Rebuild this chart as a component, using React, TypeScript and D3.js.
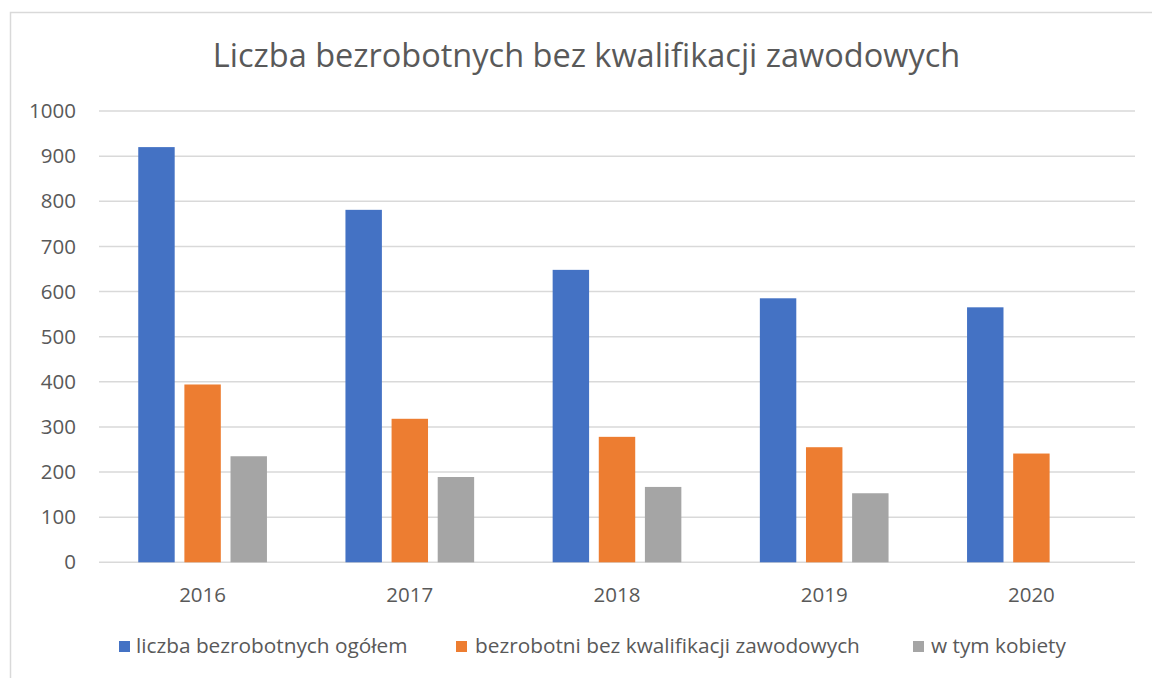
import React from "react";
import * as d3 from "d3";

const categories = ["2016", "2017", "2018", "2019", "2020"];
const seriesNames = [
  "liczba bezrobotnych ogółem",
  "bezrobotni bez kwalifikacji zawodowych",
  "w tym kobiety",
];
const totalValues: (number | null)[] = [920, 781, 648, 585, 565];
const unqualifiedValues: (number | null)[] = [394, 318, 278, 255, 241];
const womenValues: (number | null)[] = [235, 189, 167, 153, null];
const seriesColors = ["#4472C4", "#ED7D31", "#A5A5A5"];
const yTicks = [0, 100, 200, 300, 400, 500, 600, 700, 800, 900, 1000];
const title = "Liczba bezrobotnych bez kwalifikacji zawodowych";

const W = 1152;
const H = 678;
const FONT = "'Open Sans', sans-serif";
const TEXT = "#595959";

export default function App() {
  const series = [totalValues, unqualifiedValues, womenValues];
  const x = d3.scaleBand<string>().domain(categories).range([99, 1135]).padding(0);
  const y = d3.scaleLinear().domain([0, 1000]).range([562.3, 111]);
  const groupW = 128.7;
  const inner = d3
    .scaleBand<string>()
    .domain(["0", "1", "2"])
    .range([-groupW / 2, groupW / 2])
    .paddingInner(0.21)
    .paddingOuter(0);

  const legendItems = [
    { sx: 119, tx: 136 },
    { sx: 456, tx: 475 },
    { sx: 913, tx: 931 },
  ];

  return (
    <div style={{ position: "absolute", left: 0, top: 0 }}>
      <svg width={W} height={H} style={{ display: "block", background: "#fff" }}>
        <rect x={10.5} y={12.5} width={1160} height={700} fill="#fff" stroke="#d9d9d9" strokeWidth={1.5} />
        <text
          x={586.5}
          y={67}
          textAnchor="middle"
          fontFamily={FONT}
          fontSize={32.5}
          fill={TEXT}
        >
          {title}
        </text>
        {yTicks.map((t) => (
          <g key={t}>
            <line x1={99} x2={1135} y1={y(t)} y2={y(t)} stroke="#d9d9d9" strokeWidth={1.5} />
            <text
              x={76}
              y={y(t)}
              dy="0.35em"
              textAnchor="end"
              fontFamily={FONT}
              fontSize={20.5}
              fill={TEXT}
            >
              {t}
            </text>
          </g>
        ))}
        {categories.map((c, i) => (
          <g key={c}>
            {series.map((vals, s) => {
              const v = vals[i];
              if (v == null) return null;
              const cx = (x(c) as number) + x.bandwidth() / 2;
              return (
                <rect
                  key={s}
                  x={cx + (inner(String(s)) as number)}
                  y={y(v)}
                  width={inner.bandwidth()}
                  height={y(0) - y(v)}
                  fill={seriesColors[s]}
                />
              );
            })}
            <text
              x={(x(c) as number) + x.bandwidth() / 2}
              y={594.5}
              dy="0.35em"
              textAnchor="middle"
              fontFamily={FONT}
              fontSize={20.5}
              fill={TEXT}
            >
              {c}
            </text>
          </g>
        ))}
        {seriesNames.map((n, s) => (
          <g key={n}>
            <rect x={legendItems[s].sx} y={641} width={11} height={11} fill={seriesColors[s]} />
            <text
              x={legendItems[s].tx}
              y={646}
              dy="0.35em"
              fontFamily={FONT}
              fontSize={20.8}
              fill={TEXT}
            >
              {n}
            </text>
          </g>
        ))}
      </svg>
    </div>
  );
}
